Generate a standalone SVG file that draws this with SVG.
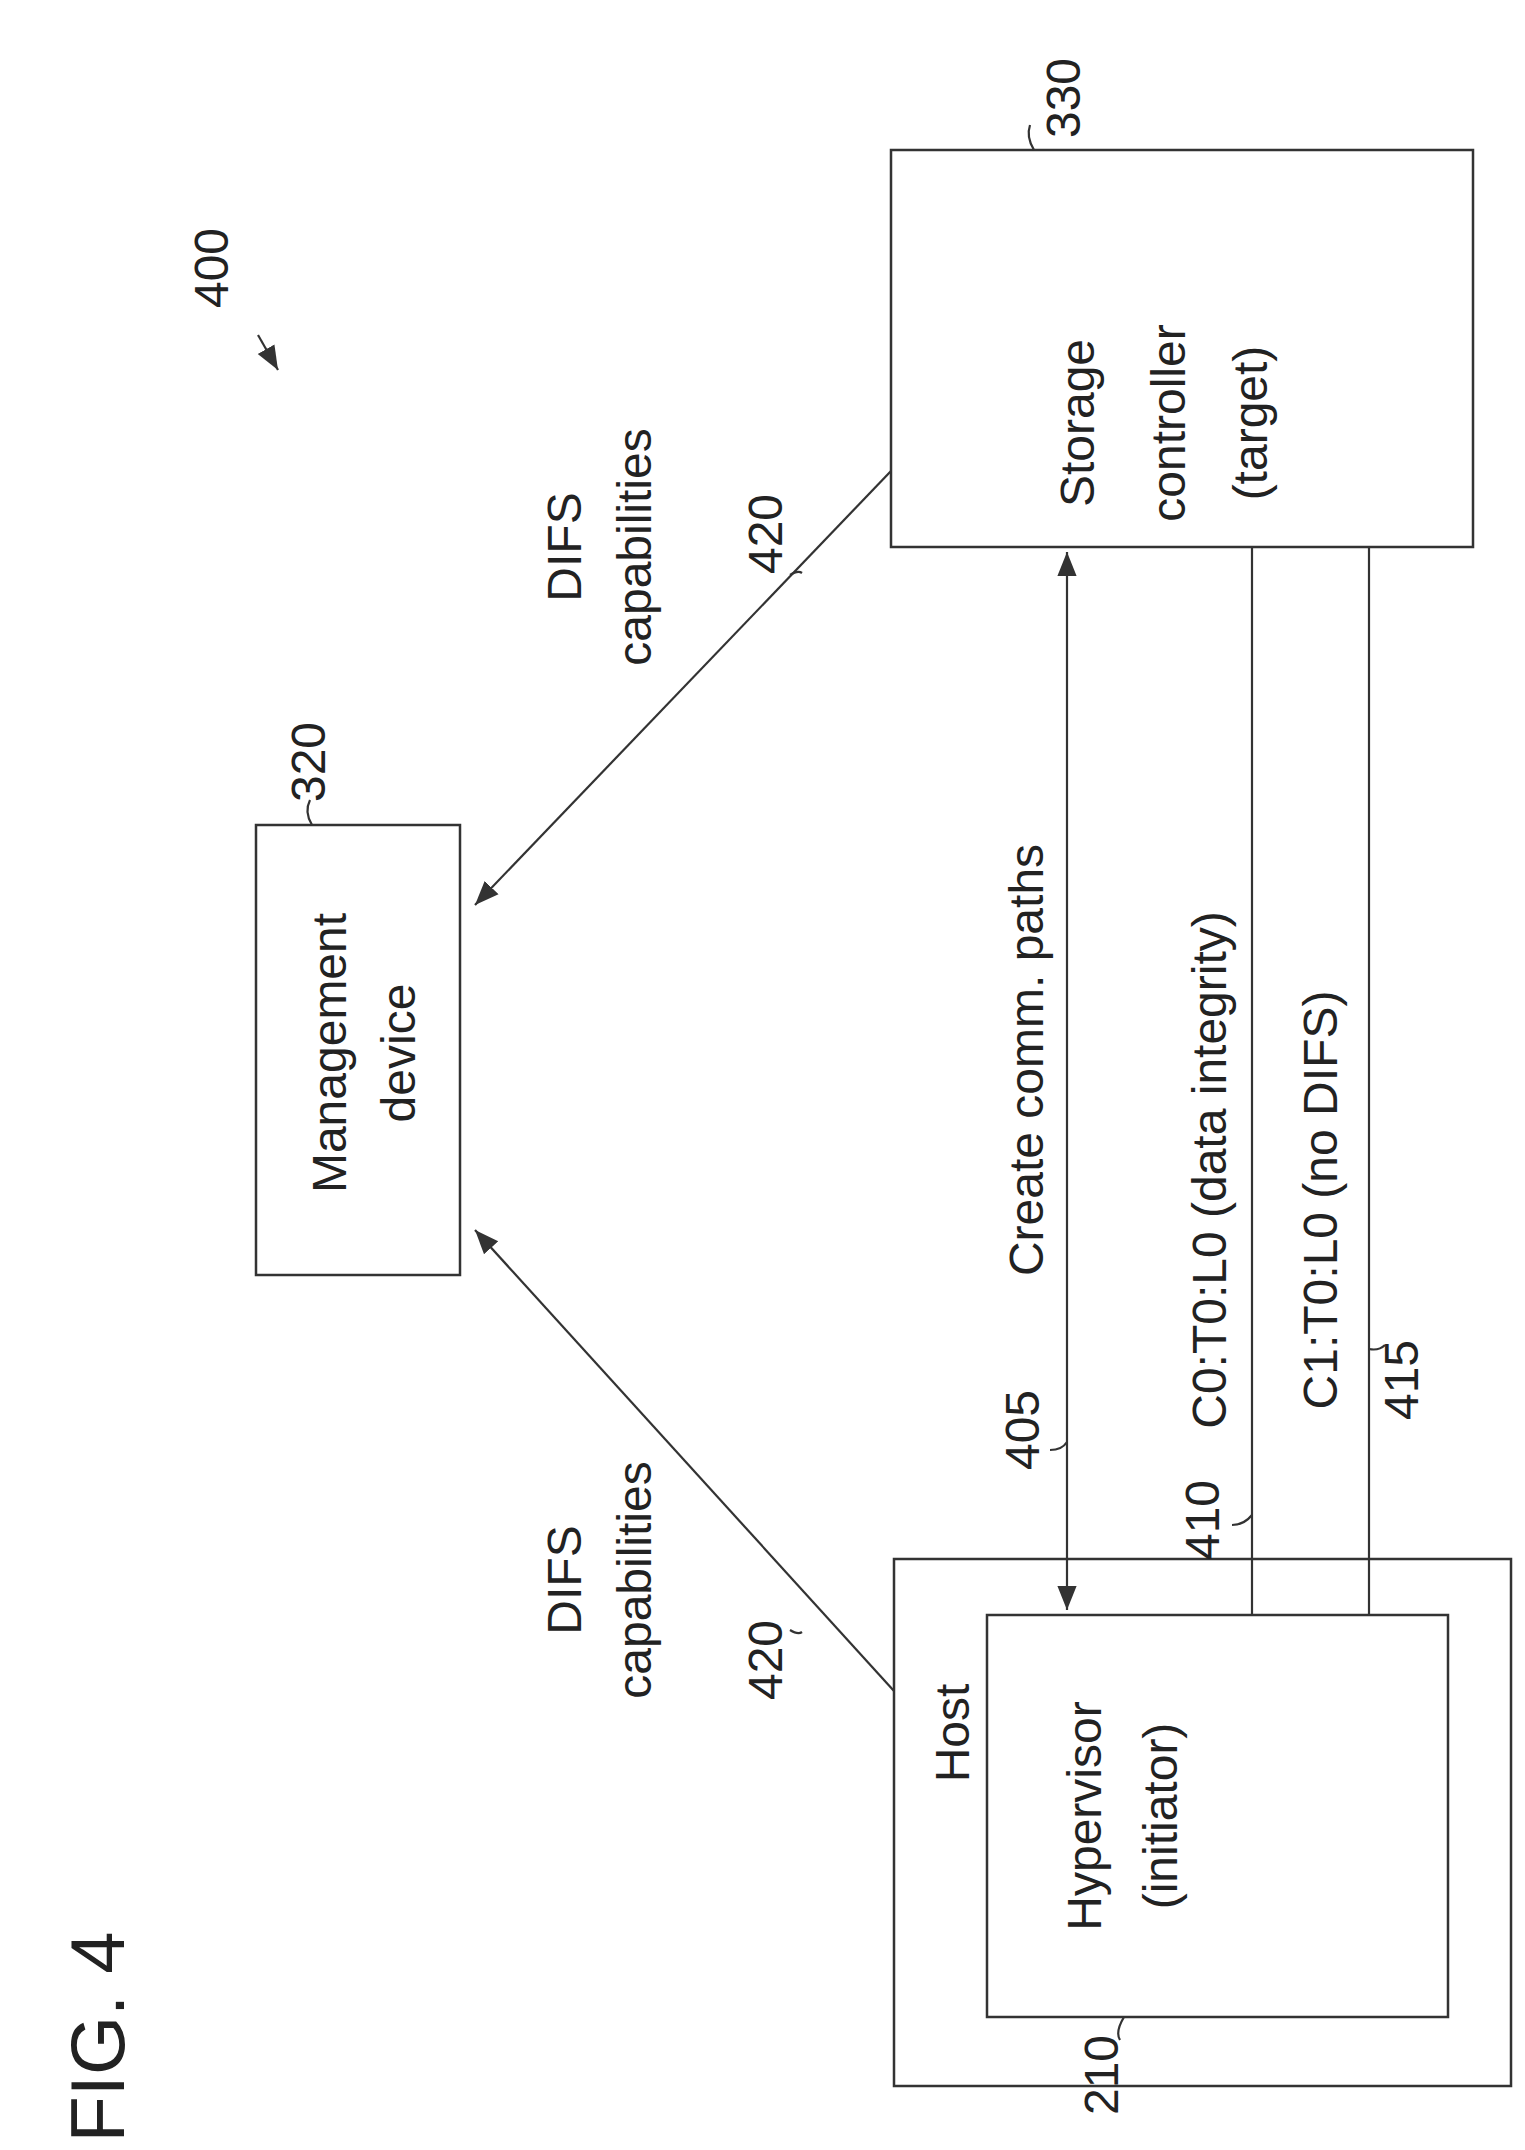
<svg xmlns="http://www.w3.org/2000/svg" width="1525" height="2150" viewBox="0 0 1525 2150">
<style>
.b{fill:none;stroke:#333;stroke-width:2.5}
.l{fill:none;stroke:#333;stroke-width:2.2}
.t{font-family:"Liberation Sans",Arial,sans-serif;font-size:48px;fill:#222;text-anchor:middle;dominant-baseline:middle}
</style>
<defs>
<marker id="ah2" viewBox="0 0 10 10" refX="10" refY="5" markerWidth="24" markerHeight="24" orient="auto-start-reverse" markerUnits="userSpaceOnUse"><path d="M0,1 L10,5 L0,9 z" fill="#333"/></marker>
</defs>
<rect width="1525" height="2150" fill="#fff"/>
<text class="t" transform="translate(104,2037) rotate(-90)" style="font-size:76px">FIG. 4</text>
<g id="ref400">
<text class="t" transform="translate(215,268) rotate(-90)">400</text>
<line class="l" x1="278" y1="370" x2="258" y2="335" marker-start="url(#ah2)"/>
</g>
<g id="storage">
<rect class="b" x="891" y="150" width="582" height="397"/>
<text class="t" transform="translate(1081,423) rotate(-90)">Storage</text>
<text class="t" transform="translate(1172,423) rotate(-90)">controller</text>
<text class="t" transform="translate(1254,423) rotate(-90)">(target)</text>
<text class="t" transform="translate(1067,98) rotate(-90)">330</text>
<path class="l" d="M1030,125 q-4,12 4,25"/>
</g>
<g id="management">
<rect class="b" x="256" y="825" width="204" height="450"/>
<text class="t" transform="translate(333,1053) rotate(-90)">Management</text>
<text class="t" transform="translate(402,1053) rotate(-90)">device</text>
<text class="t" transform="translate(312,762) rotate(-90)">320</text>
<path class="l" d="M310,800 q-6,12 2,25"/>
</g>
<g id="host">
<rect class="b" x="894" y="1559" width="617" height="527"/>
<text class="t" transform="translate(956,1733) rotate(-90)">Host</text>
</g>
<g id="hypervisor">
<rect class="b" x="987" y="1615" width="461" height="402"/>
<text class="t" transform="translate(1088,1816) rotate(-90)">Hypervisor</text>
<text class="t" transform="translate(1164,1816) rotate(-90)">(initiator)</text>
<text class="t" transform="translate(1105,2075) rotate(-90)">210</text>
<path class="l" d="M1120,2040 q-5,-8 4,-23"/>
</g>
<g id="connectors">
<line class="l" x1="891" y1="471" x2="475" y2="905" marker-end="url(#ah2)"/>
<line class="l" x1="894" y1="1691" x2="475" y2="1230" marker-end="url(#ah2)"/>
<line class="l" x1="1067" y1="552" x2="1067" y2="1610" marker-start="url(#ah2)" marker-end="url(#ah2)"/>
<line class="l" x1="1252" y1="547" x2="1252" y2="1615"/>
<line class="l" x1="1369" y1="547" x2="1369" y2="1615"/>
<path class="l" d="M790,575 q8,-5 12,-2"/>
<path class="l" d="M790,1630 q8,5 12,2"/>
<path class="l" d="M1050,1450 q12,0 17,-8"/>
<path class="l" d="M1232,1525 q12,0 20,-10"/>
<path class="l" d="M1385,1345 q-6,6 -16,4"/>
</g>
<g id="labels">
<text class="t" transform="translate(568,547) rotate(-90)">DIFS</text>
<text class="t" transform="translate(638,547) rotate(-90)">capabilities</text>
<text class="t" transform="translate(769,534) rotate(-90)">420</text>
<text class="t" transform="translate(568,1580) rotate(-90)">DIFS</text>
<text class="t" transform="translate(638,1580) rotate(-90)">capabilities</text>
<text class="t" transform="translate(769,1660) rotate(-90)">420</text>
<text class="t" transform="translate(1030,1060) rotate(-90)">Create comm. paths</text>
<text class="t" transform="translate(1213,1170) rotate(-90)">C0:T0:L0 (data integrity)</text>
<text class="t" transform="translate(1324,1200) rotate(-90)">C1:T0:L0 (no DIFS)</text>
<text class="t" transform="translate(1026,1430) rotate(-90)">405</text>
<text class="t" transform="translate(1206,1520) rotate(-90)">410</text>
<text class="t" transform="translate(1405,1380) rotate(-90)">415</text>
</g>
</svg>
